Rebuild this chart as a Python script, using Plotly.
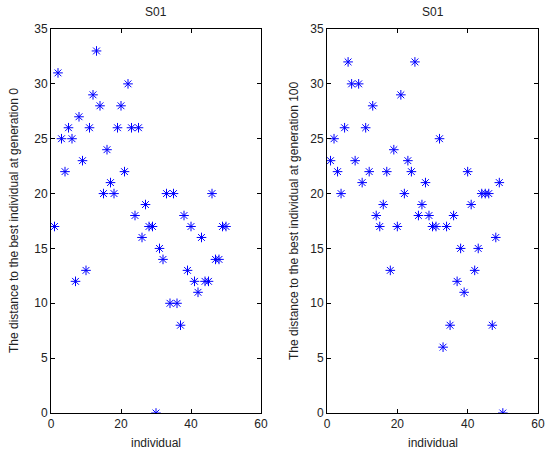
import plotly.graph_objects as go

individual = list(range(1, 51))
dist_gen0 = [17, 31, 25, 22, 26, 25, 12, 27, 23, 13,
             26, 29, 33, 28, 20, 24, 21, 20, 26, 28,
             22, 30, 26, 18, 26, 16, 19, 17, 17, 0,
             15, 14, 20, 10, 20, 10, 8, 18, 13, 17,
             12, 11, 16, 12, 12, 20, 14, 14, 17, 17]
dist_gen100 = [23, 25, 22, 20, 26, 32, 30, 23, 30, 21,
               26, 22, 28, 18, 17, 19, 22, 13, 24, 17,
               29, 20, 23, 22, 32, 18, 19, 21, 18, 17,
               17, 25, 6, 17, 8, 18, 12, 15, 11, 22,
               19, 13, 15, 20, 20, 20, 8, 16, 21, 0]
titles = ["S01", "S01"]
ylabels = ["The distance to the best individual at generation 0",
           "The distance to the best individual at generation 100"]
xlabel = "individual"

font = "Liberation Sans, Arial, sans-serif"
W, H = 550, 458

fig = go.Figure()
marker = dict(symbol="asterisk-open", size=8, color="#0000ff",
              line=dict(color="#0000ff", width=1))
fig.add_trace(go.Scatter(x=individual, y=dist_gen0, mode="markers",
                         marker=marker, xaxis="x", yaxis="y", showlegend=False))
fig.add_trace(go.Scatter(x=individual, y=dist_gen100, mode="markers",
                         marker=marker, xaxis="x2", yaxis="y2", showlegend=False))

# plot boxes in pixels (left, right), shared top/bottom; ylabel centre x
boxes = [(51, 261), (327, 538)]
ylab_x = [14, 294]
top, bottom = 29, 413
ydom = [1 - bottom / H, 1 - top / H]

ax_common = dict(showgrid=False, zeroline=False, showline=True, linecolor="black",
                 linewidth=1, mirror="allticks", ticks="inside", ticklen=4,
                 tickcolor="black", automargin=False,
                 tickfont=dict(family=font, size=12, color="#222"))
txt = dict(xref="paper", yref="paper", showarrow=False, xanchor="center",
           yanchor="middle", font=dict(family=font, size=12, color="#222"))

annotations = []
for i, (l, r) in enumerate(boxes):
    sx = "" if i == 0 else str(i + 1)
    fig.update_layout(**{
        "xaxis" + sx: dict(ax_common, domain=[l / W, r / W], range=[0, 60],
                           tickvals=[0, 20, 40, 60], anchor="y" + sx),
        "yaxis" + sx: dict(ax_common, domain=ydom, range=[0, 35],
                           tickvals=list(range(0, 36, 5)), anchor="x" + sx),
    })
    cx = (l + r) / 2 / W
    annotations.append(dict(txt, text=titles[i], x=cx, y=1 - 12 / H))
    annotations.append(dict(txt, text=xlabel, x=cx, y=1 - 443 / H))
    annotations.append(dict(txt, text=ylabels[i], x=ylab_x[i] / W,
                            y=(ydom[0] + ydom[1]) / 2, textangle=-90))

fig.update_layout(width=W, height=H, margin=dict(l=0, r=0, t=0, b=0),
                  plot_bgcolor="white", paper_bgcolor="white",
                  annotations=annotations)

# drop the page's default body margin so the figure sits at the window corner
fig.write_html("out.html", config={"displayModeBar": False},
               post_script="document.body.style.margin='0';")
